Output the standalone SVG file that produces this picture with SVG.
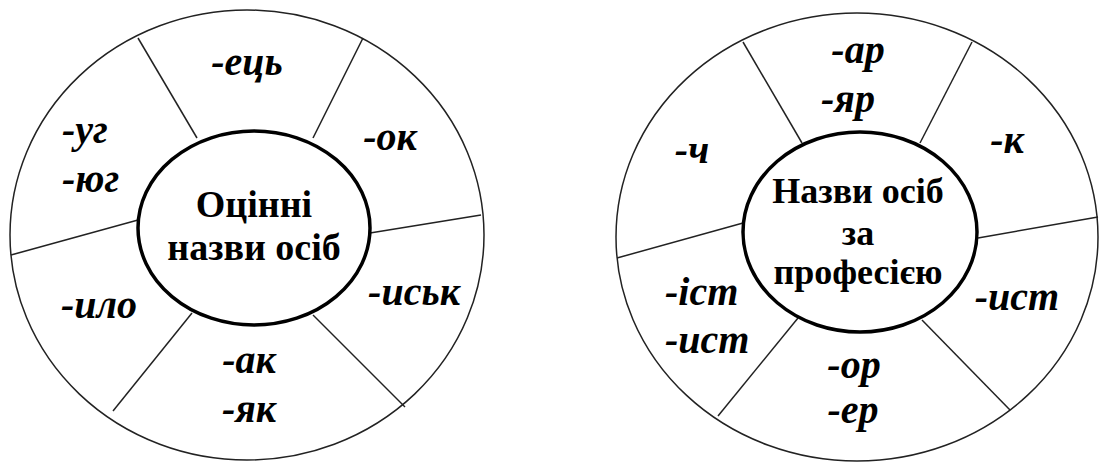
<svg xmlns="http://www.w3.org/2000/svg" width="1099" height="463" viewBox="0 0 1099 463">
<style>
.outer{fill:#fff;stroke:#222;stroke-width:1.5}
.inner{fill:#fff;stroke:#000;stroke-width:3.5}
.div{stroke:#222;stroke-width:1.5;fill:none}
.suf{font-family:"Liberation Serif",serif;font-weight:bold;font-style:italic;font-size:40px;fill:#000}
.ctr{font-family:"Liberation Serif",serif;font-weight:bold;font-size:38px;fill:#000;text-anchor:middle}
.ctr2{font-size:36px}
.m{text-anchor:middle}
</style>
<rect width="1099" height="463" fill="#fff"/>
<g id="left-wheel">
<ellipse class="outer" cx="247" cy="235" rx="237" ry="225"/>
<g id="left-dividers">
<line class="div" x1="138" y1="38" x2="197" y2="138"/>
<line class="div" x1="363" y1="38" x2="313" y2="138"/>
<line class="div" x1="481" y1="215" x2="370" y2="233"/>
<line class="div" x1="405" y1="407" x2="313" y2="315"/>
<line class="div" x1="113" y1="411" x2="192" y2="313"/>
<line class="div" x1="11" y1="255" x2="138" y2="220"/>
</g>
<g id="left-center">
<ellipse class="inner" cx="254" cy="228" rx="116" ry="97"/>
<text class="ctr" x="254" y="217">Оцінні</text>
<text class="ctr" x="254" y="260">назви осіб</text>
</g>
<text class="suf m" x="247" y="75">-ець</text>
<text class="suf m" x="390" y="150">-ок</text>
<text class="suf" x="62" y="143">-уг</text>
<text class="suf" x="62" y="192">-юг</text>
<text class="suf m" x="99" y="318">-ило</text>
<text class="suf m" x="414" y="305">-иськ</text>
<text class="suf m" x="249" y="373">-ак</text>
<text class="suf m" x="249" y="422">-як</text>
</g>
<g id="right-wheel">
<ellipse class="outer" cx="857" cy="237" rx="241" ry="224"/>
<g id="right-dividers">
<line class="div" x1="743" y1="42" x2="802" y2="143"/>
<line class="div" x1="972" y1="42" x2="920" y2="143"/>
<line class="div" x1="1098" y1="217" x2="978" y2="238"/>
<line class="div" x1="1010" y1="410" x2="922" y2="320"/>
<line class="div" x1="718" y1="416" x2="798" y2="318"/>
<line class="div" x1="617" y1="258" x2="743" y2="223"/>
</g>
<g id="right-center">
<ellipse class="inner" cx="860" cy="232" rx="117" ry="100"/>
<text class="ctr ctr2" x="858" y="203">Назви осіб</text>
<text class="ctr ctr2" x="858" y="245">за</text>
<text class="ctr ctr2" x="858" y="284">професією</text>
</g>
<text class="suf m" x="858" y="63">-ар</text>
<text class="suf m" x="848" y="112">-яр</text>
<text class="suf m" x="1007" y="153">-к</text>
<text class="suf m" x="692" y="163">-ч</text>
<text class="suf" x="665" y="305">-іст</text>
<text class="suf" x="665" y="353">-ист</text>
<text class="suf m" x="1017" y="310">-ист</text>
<text class="suf m" x="854" y="378">-ор</text>
<text class="suf m" x="853" y="423">-ер</text>
</g>
</svg>
